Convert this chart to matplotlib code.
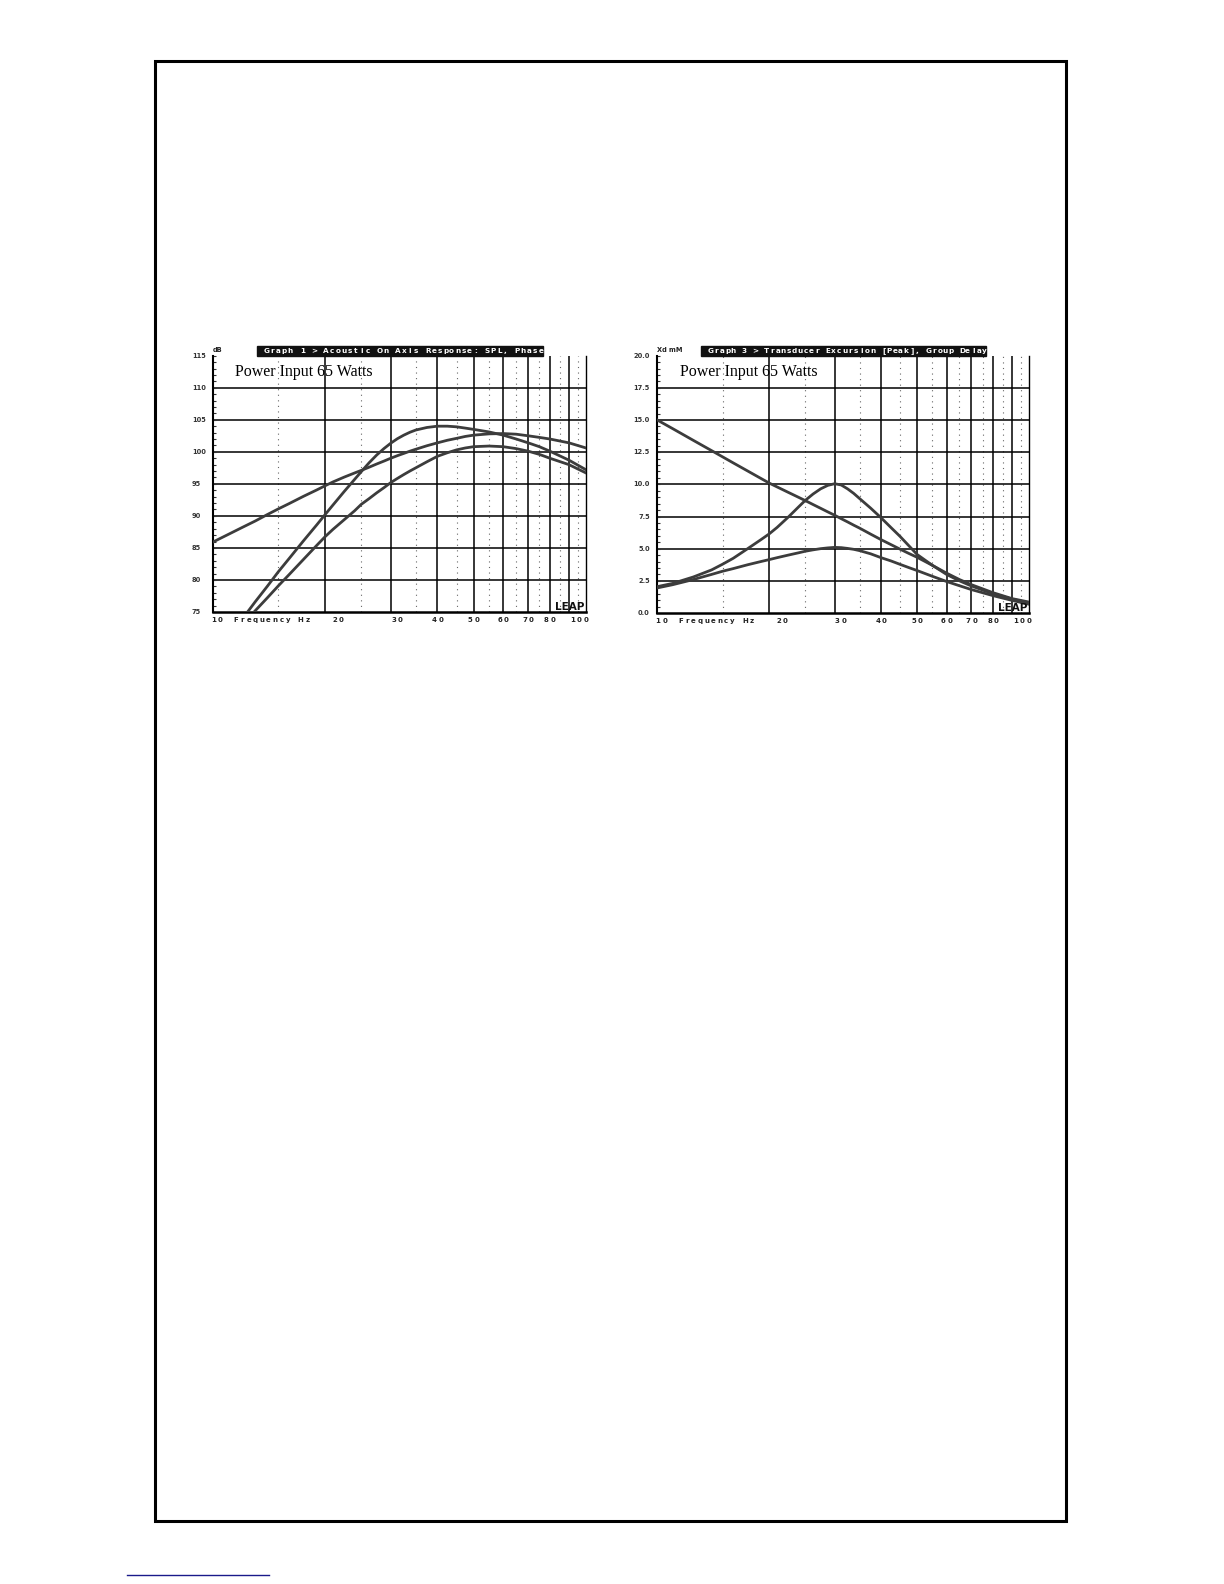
import numpy as np
import matplotlib.pyplot as plt
from matplotlib.patches import Rectangle
from matplotlib.lines import Line2D
import matplotlib.transforms as mtrans

W, H = 1224, 1584

# graph 1 : acoustic on axis response, SPL in dB
spl_freq = [10, 11, 12, 13, 14, 15, 16, 17.5, 19, 20, 21, 22.5, 24, 25, 26.25, 27.5,
            28.75, 30, 31.25, 32.5, 33.75, 35, 37.5, 40, 42.5, 45, 47.5, 50, 55, 60,
            65, 70, 75, 80, 90, 100]
spl_a = [85.9, 87.1, 88.2, 89.2, 90.2, 91.1, 91.9, 93.05, 94.05, 94.7, 95.3, 96.05,
         96.7, 97.1, 97.6, 98.1, 98.55, 99.0, 99.4, 99.75, 100.1, 100.4, 100.95, 101.4,
         101.8, 102.1, 102.4, 102.6, 102.8, 102.85, 102.75, 102.5, 102.25, 102.0, 101.4, 100.6]
spl_b = [67.9, 71.0, 73.9, 76.6, 79.0, 81.3, 83.3, 86.1, 88.6, 90.2, 91.7, 93.8,
         95.7, 96.9, 98.3, 99.5, 100.5, 101.35, 102.05, 102.6, 103.05, 103.4, 103.8, 104.0,
         104.0, 103.9, 103.7, 103.5, 103.1, 102.6, 102.0, 101.4, 100.8, 100.1, 98.7, 97.2]
spl_c = [68.0, 70.6, 73.0, 75.2, 77.2, 79.1, 80.8, 83.2, 85.4, 86.75, 87.9, 89.4,
         90.8, 91.8, 92.7, 93.6, 94.4, 95.2, 95.85, 96.45, 97.0, 97.5, 98.45, 99.3,
         99.85, 100.3, 100.6, 100.8, 100.9, 100.8, 100.5, 100.1, 99.6, 99.0, 98.0, 96.7]

# graph 3 : transducer excursion (peak), mm
xd_freq = [10, 11, 12.5, 14, 15, 16, 17.5, 19, 20, 21, 22.5, 24, 25, 26.25, 27.5,
           28.75, 30, 31.25, 32.5, 33.75, 35, 37.5, 40, 42.5, 45, 47.5, 50, 55, 60,
           65, 70, 80, 90, 100]
xd_d = [15.0, 14.33, 13.42, 12.62, 12.13, 11.67, 11.04, 10.46, 10.1, 9.8, 9.38, 8.99,
        8.74, 8.43, 8.14, 7.86, 7.6, 7.33, 7.08, 6.83, 6.6, 6.13, 5.7, 5.32, 4.96, 4.63,
        4.33, 3.7, 3.1, 2.6, 2.2, 1.58, 1.12, 0.85]
xd_e = [2.05, 2.3, 2.8, 3.35, 3.8, 4.25, 5.0, 5.7, 6.15, 6.65, 7.45, 8.25,
        8.75, 9.25, 9.65, 9.92, 10.05, 9.95, 9.65, 9.3, 8.9, 8.15, 7.4, 6.65, 5.95, 5.23,
        4.55, 3.7, 3.0, 2.5, 2.1, 1.5, 1.08, 0.78]
xd_f = [1.95, 2.2, 2.6, 3.0, 3.25, 3.45, 3.75, 4.0, 4.15, 4.3, 4.5, 4.68,
        4.8, 4.91, 5.0, 5.06, 5.1, 5.08, 5.02, 4.95, 4.85, 4.6, 4.3, 4.05, 3.78, 3.53,
        3.3, 2.85, 2.45, 2.12, 1.82, 1.35, 0.98, 0.68]

spl_ticks = [75, 80, 85, 90, 95, 100, 105, 110, 115]
spl_ticklabels = ['75', '80', '85', '90', '95', '100', '105', '110', '115']
xd_ticks = [0, 2.5, 5, 7.5, 10, 12.5, 15, 17.5, 20]
xd_ticklabels = ['0.0', '2.5', '5.0', '7.5', '10.0', '12.5', '15.0', '17.5', '20.0']

freq_ticks = [10, 20, 30, 40, 50, 60, 70, 80, 100]
freq_ticklabels = ['10', '20', '30', '40', '50', '60', '70', '80', '100']
freq_label_shift = [4, 13, 6, 0, 0, 0, 0, 0, -7]   # px

major_f = [20, 30, 40, 50, 60, 70, 80, 90]
minor_f = [15, 25, 35, 45, 55, 65, 75, 85, 95]

title1 = 'Graph 1 > Acoustic On Axis Response: SPL, Phase'
title3 = 'Graph 3 > Transducer Excursion [Peak], Group Delay'
curve_col = '#3c3c3c'

fig = plt.figure(figsize=(W / 100, H / 100), dpi=100)


def shift(dx_px):
    return mtrans.ScaledTranslation(dx_px / 100, 0, fig.dpi_scale_trans)


def spaced_text(ax, x, y, s, pitch, transform, first=None, **kw):
    # one glyph per cell, like the letter-spaced labels of the original
    if first is None:
        first = -(len(s) - 1) / 2 * pitch
    for i, ch in enumerate(s):
        if ch != ' ':
            ax.text(x, y, ch, transform=transform + shift(first + i * pitch),
                    ha='center', va='center', **kw)


def make_axes(left, top, right, bottom):
    return fig.add_axes([left / W, 1 - bottom / H, (right - left) / W, (bottom - top) / H])


def draw_graph(ax, freq, curves, ylim, yticks, ylabels, ystep, minor_step,
               unit, title, ylab_x, ylab_ha, width_px):
    ax.set_xscale('log')
    ax.set_xlim(10, 100)
    ax.set_ylim(*ylim)
    for f in major_f:
        ax.axvline(f, color='black', lw=1.1, zorder=1)
    for f in minor_f:
        ax.axvline(f, color='#666666', lw=0.8, ls=(0, (1, 4)), zorder=1)
    for v in np.arange(ylim[0] + ystep, ylim[1], ystep):
        ax.axhline(v, color='black', lw=1.1, zorder=1)
    for c in curves:
        ax.plot(freq, c, color=curve_col, lw=2.0, zorder=3, solid_joinstyle='round')

    ax.set_xticks([])
    ax.set_xticks([], minor=True)
    ax.set_yticks(np.arange(ylim[0], ylim[1] + 0.01, minor_step), minor=True)
    ax.set_yticks([])
    ax.tick_params(axis='y', which='minor', direction='in', length=2.0, width=0.8,
                   labelleft=False, color='#333333')
    ax.spines['top'].set_visible(False)
    ax.spines['left'].set_linewidth(1.5)
    ax.spines['bottom'].set_linewidth(1.8)
    ax.spines['right'].set_linewidth(1.0)

    tr = mtrans.blended_transform_factory(ax.transAxes, ax.transData)
    for v, s in zip(yticks, ylabels):
        ax.text(ylab_x, v, s, transform=tr, ha=ylab_ha, va='center',
                fontsize=4.8, color='#333333', fontweight='bold')

    lab = dict(fontsize=5, color='#222222', fontweight='bold')
    trx = mtrans.blended_transform_factory(ax.transData, ax.transAxes)
    for f, s, dx in zip(freq_ticks, freq_ticklabels, freq_label_shift):
        spaced_text(ax, f, -0.031, s, 6.6, trx + shift(dx), **lab)
    spaced_text(ax, 11.55, -0.031, 'Frequency', 6.5, trx, first=0, **lab)
    spaced_text(ax, 17.2, -0.031, 'Hz', 7.0, trx, first=0, **lab)

    ax.text(0.0, 1.022, unit, transform=ax.transAxes, ha='left', va='center',
            fontsize=4.8, color='#222222', fontweight='bold')
    ax.add_patch(Rectangle((0.118, 1.0), 0.767, 0.037, transform=ax.transAxes,
                           color='#111111', clip_on=False, zorder=5))
    t0, t1 = 0.144, 0.880
    pitch = (t1 - t0) * width_px / (len(title) - 1)
    spaced_text(ax, t0, 1.0185, title, pitch, ax.transAxes, first=0,
                fontsize=5.2, color='white', fontweight='bold', zorder=6)

    ax.text(0.06, 0.935, 'Power Input 65 Watts', transform=ax.transAxes,
            ha='left', va='center', fontsize=11.5, family='Liberation Serif', zorder=6)
    ax.text(0.995, 0.018, 'LEAP', transform=ax.transAxes, ha='right', va='center',
            fontsize=7.5, fontweight='bold', color='#111111', zorder=6)


ax1 = make_axes(212.7, 355.7, 586, 612)
draw_graph(ax1, spl_freq, [spl_a, spl_b, spl_c], (75, 115), spl_ticks, spl_ticklabels,
           5, 1, 'dB', title1, -0.056, 'left', 586 - 212.7)

ax2 = make_axes(657.3, 355.7, 1029, 613)
draw_graph(ax2, xd_freq, [xd_d, xd_e, xd_f], (0, 20), xd_ticks, xd_ticklabels,
           2.5, 0.5, 'Xd mM', title3, -0.02, 'right', 1029 - 657.3)

# page frame and link underline
fig.add_artist(Rectangle((155 / W, 1 - 1521 / H), (1066 - 155) / W, (1521 - 61) / H,
                         transform=fig.transFigure, fill=False, lw=2.2, ec='black'))
fig.add_artist(Line2D([127 / W, 269 / W], [1 - 1575 / H, 1 - 1575 / H],
                      transform=fig.transFigure, color='#1a1a8a', lw=1.0))

fig.savefig('out.png', dpi=100)
